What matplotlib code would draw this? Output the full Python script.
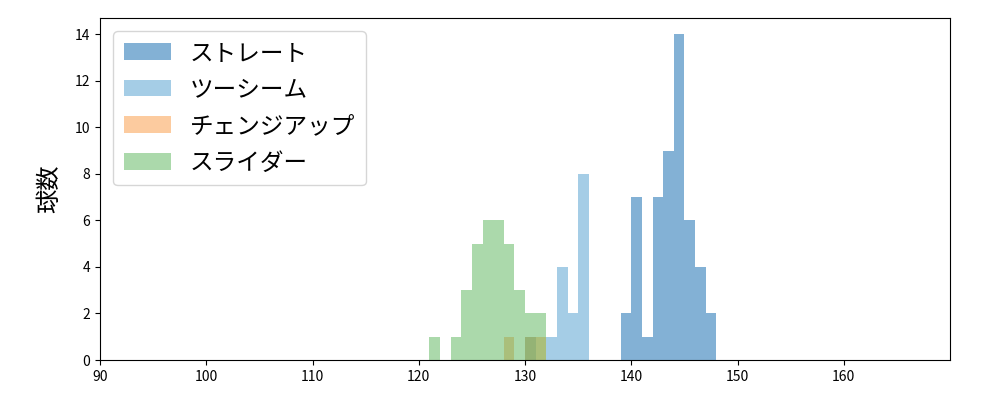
import matplotlib
matplotlib.use("Agg")
import matplotlib.pyplot as plt
import numpy as np

plt.rcParams['font.family'] = ['Noto Sans CJK JP', 'DejaVu Sans']

labels = ["ストレート", "ツーシーム", "チェンジアップ", "スライダー"]
colors = ["#0965ad", "#4d9dcf", "#fb9941", "#59b559"]

straight_bins = [139, 140, 141, 142, 143, 144, 145, 146, 147]
straight_counts = [2, 7, 1, 7, 9, 14, 6, 4, 2]

twoseam_bins = [130, 131, 132, 133, 134, 135]
twoseam_counts = [1, 0, 1, 4, 2, 8]

change_bins = [128, 130, 131]
change_counts = [1, 1, 1]

slider_bins = [121, 122, 123, 124, 125, 126, 127, 128, 129, 130, 131]
slider_counts = [1, 0, 1, 3, 5, 6, 6, 5, 3, 2, 2]

series = [(straight_bins, straight_counts), (twoseam_bins, twoseam_counts),
          (change_bins, change_counts), (slider_bins, slider_counts)]

fig = plt.figure(figsize=(10, 4), dpi=100)
ax = fig.add_axes([0.1, 0.1, 0.85, 0.855])
for (b, c), lab, col in zip(series, labels, colors):
    ax.bar(b, c, width=1.0, align='edge', color=col, alpha=0.5, label=lab, linewidth=0)

ax.set_xlim(90, 170)
ax.set_ylim(0, 14.7)
ax.set_yticks(range(0, 15, 2))
ax.set_xticks(range(90, 170, 10))
ax.set_ylabel("球数", fontsize=17.5, labelpad=9)
ax.legend(loc='upper left', fontsize=17, handlelength=2.0, borderaxespad=0.55,
          labelspacing=0.58, borderpad=0.45)
fig.savefig("out.png")
